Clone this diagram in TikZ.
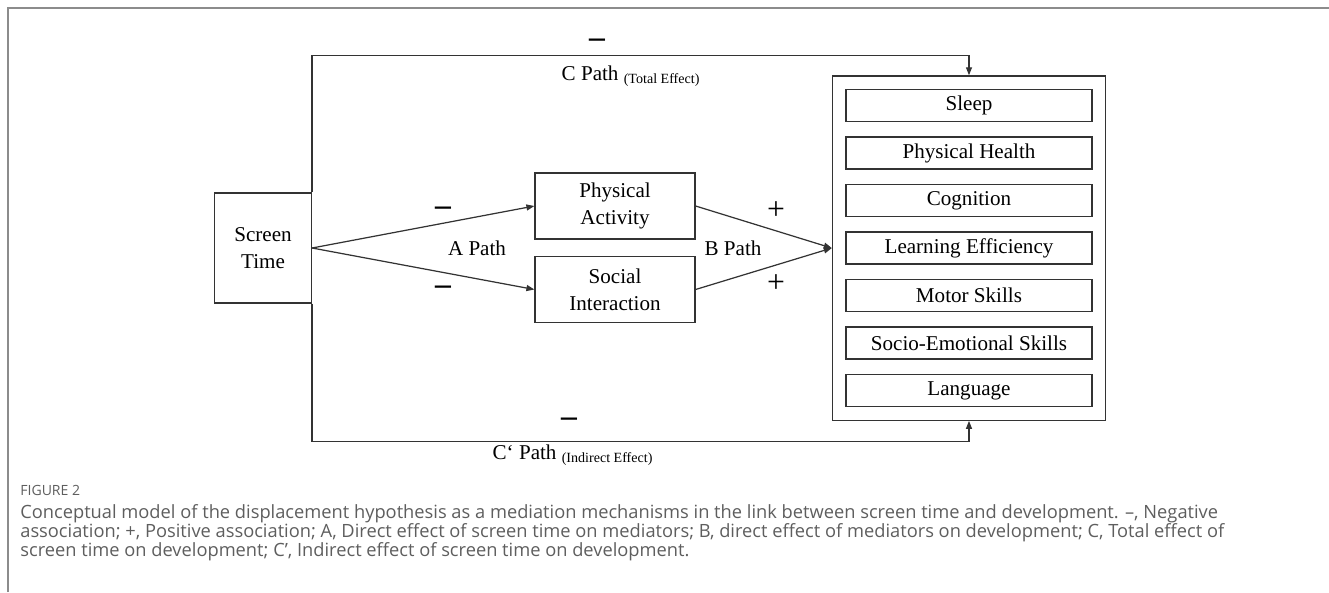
\documentclass[tikz,border=0pt]{standalone}
\usepackage{fontspec}
\setmainfont{Liberation Serif}
\newfontfamily\capfont{Open Sans}
\usetikzlibrary{arrows.meta, positioning, calc, fit}
\definecolor{linegray}{HTML}{333333}
\definecolor{framegray}{HTML}{8C8C8C}
\definecolor{capgray}{HTML}{5E5E5E}

\begin{document}
\begin{tikzpicture}[
  x=0.02cm, y=-0.02cm,
  node distance=0.286cm,
  varbox/.style={rectangle, draw=linegray, line width=0.7pt, text centered, align=center,
    font=\fontsize{12}{15.5}\selectfont, inner sep=0pt},
  outbox/.style={varbox, minimum width=4.92cm, minimum height=0.64cm},
  medbox/.style={varbox, minimum width=3.2cm, minimum height=1.32cm},
  arrow/.style={-{Triangle[length=1.6mm, width=1.2mm]}, draw=linegray, line width=0.7pt},
  sign/.style={font=\fontsize{18}{18}\selectfont, inner sep=0pt},
  lab/.style={font=\fontsize{12}{14}\selectfont, inner sep=0pt}
]
\useasboundingbox (0,0) rectangle (1329,592);
\draw[framegray, line width=1.1pt] (8,592) -- (8,8) -- (1329,8);

\node (screen) [varbox, minimum width=1.94cm, minimum height=2.2cm] at (263,248) {Screen\\Time};
\node (phys) [medbox] at (615,206) {Physical\\Activity};
\node (social) [medbox] at (615,289.5) {Social\\Interaction};

\node (sleep) [outbox] at (969,105.5) {Sleep};
\node (health) [outbox, below=of sleep] {Physical Health};
\node (cogn) [outbox, below=of health] {Cognition};
\node (learn) [outbox, below=of cogn] {Learning Efficiency};
\node (motor) [outbox, below=of learn] {Motor Skills};
\node (socemo) [outbox, below=of motor] {Socio-Emotional Skills};
\node (lang) [outbox, below=of socemo] {Language};
\node (outcome) [draw=linegray, line width=0.7pt, inner sep=0.26cm, fit=(sleep)(lang)] {};

\draw [arrow] (screen.east) -- (phys.west);
\draw [arrow] (screen.east) -- (social.west);
\draw [arrow] (phys.east) -- (outcome.west);
\draw [arrow] (social.east) -- (outcome.west);
\draw [arrow] (screen.north east) |- ($(outcome.north)+(0,-20)$) -- (outcome.north);
\draw [arrow] (screen.south east) |- ($(outcome.south)+(0,21)$) -- (outcome.south);

\node (apath) [lab] at (477,248) {A Path};
\node (bpath) [lab] at (733,248) {B Path};
\node (aminus1) [sign] at (443,211) {\bfseries –};
\node (aminus2) [sign] at (443,290) {\bfseries –};
\node (bplus1) [sign] at (776,211) {+};
\node (bplus2) [sign] at (776,284) {+};
\node (cminus) [sign] at (597,43) {\bfseries –};
\node (cpath) [lab] at (631,76) {C Path \textsubscript{(Total Effect)}};
\node (dminus) [sign] at (569,422) {\bfseries –};
\node (dpath) [lab] at (573,455) {C‘ Path \textsubscript{(Indirect Effect)}};

\node (figlabel) [anchor=base west, font=\capfont\fontsize{8}{9}\selectfont, text=capgray, inner sep=0pt]
  at (20,495) {FIGURE 2};
\node (caption) [anchor=north west, align=left, font=\capfont\fontsize{10.4}{10.8}\selectfont, text=capgray, inner sep=0pt]
  at (20,504) {Conceptual model of the displacement hypothesis as a mediation mechanisms in the link between screen time and development. –, Negative\\
association; +, Positive association; A, Direct effect of screen time on mediators; B, direct effect of mediators on development; C, Total effect of\\
screen time on development; C’, Indirect effect of screen time on development.};
\end{tikzpicture}
\end{document}
